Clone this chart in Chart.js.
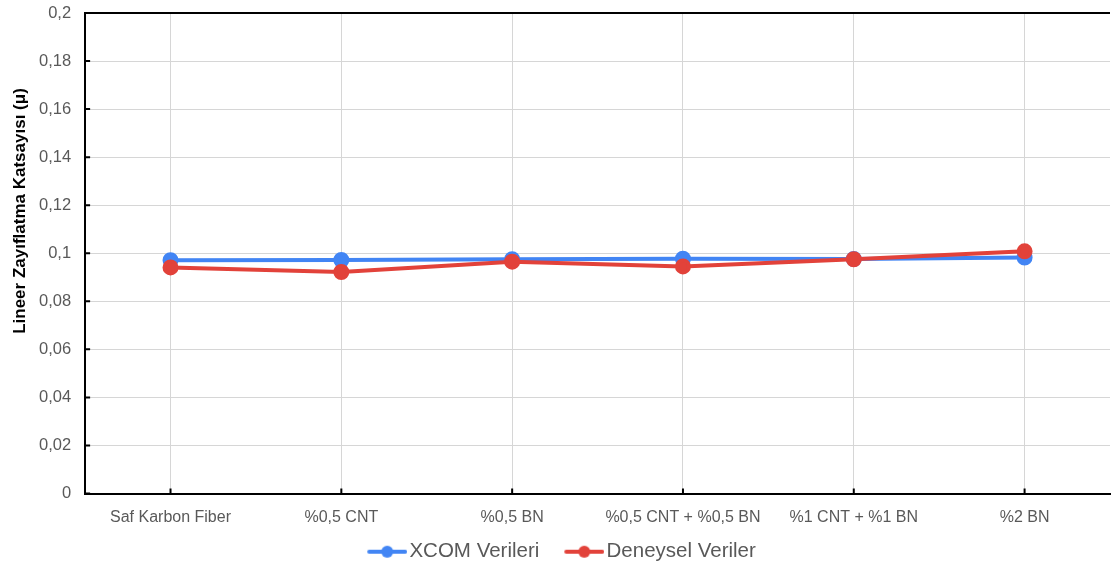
<!DOCTYPE html>
<html>
<head>
<meta charset="utf-8">
<script src="https://cdn.jsdelivr.net/npm/chart.js@4.4.1/dist/chart.umd.min.js"></script>
<style>
  html, body { margin: 0; padding: 0; background: #fff; overflow: hidden; }
  #wrap { width: 1111px; height: 567px; position: relative; }
</style>
</head>
<body>
<div id="wrap"><canvas id="myChart"></canvas></div>
<script>
const categories = ['Saf Karbon Fiber', '%0,5 CNT', '%0,5 BN', '%0,5 CNT + %0,5 BN', '%1 CNT + %1 BN', '%2 BN'];
const xcom = [0.0971, 0.0972, 0.0975, 0.0977, 0.0976, 0.0982];
const deneysel = [0.0941, 0.0922, 0.0965, 0.0945, 0.0975, 0.1008];
const yTicks = [0, 0.02, 0.04, 0.06, 0.08, 0.1, 0.12, 0.14, 0.16, 0.18, 0.2];
const yTitle = 'Lineer Zayıflatma Katsayısı (μ)';

const BLUE = '#4285f4';
const RED = '#e2423a';
const FONT = 'Liberation Sans, Arial, sans-serif';

// legend marker: short line with a dot, blank strip on the left for spacing
function lineMarker(color) {
  const c = document.createElement('canvas');
  c.width = 62; c.height = 14;
  const g = c.getContext('2d');
  g.strokeStyle = color; g.lineWidth = 4; g.lineCap = 'round';
  g.beginPath(); g.moveTo(24, 7); g.lineTo(60, 7); g.stroke();
  g.fillStyle = color;
  g.beginPath(); g.arc(42, 7, 6, 0, Math.PI * 2); g.fill();
  return c;
}

function comma(v) {
  return String(parseFloat(v.toFixed(2))).replace('.', ',');
}

const data = {
  labels: categories,
  datasets: [{
    label: 'XCOM Verileri',
    data: xcom,
    borderColor: BLUE,
    backgroundColor: BLUE,
    borderWidth: 4,
    pointRadius: 6,
    pointHoverRadius: 6,
    order: 2,
    marker: lineMarker(BLUE)
  },
  {
    label: 'Deneysel Veriler',
    data: deneysel,
    borderColor: RED,
    backgroundColor: RED,
    borderWidth: 4,
    pointRadius: 6,
    pointHoverRadius: 6,
    order: 1,
    marker: lineMarker(RED)
  }]
};

const config = {
  type: 'line',
  data: data,
  options: {
    responsive: true,
    maintainAspectRatio: false,
    animation: false,
    layout: { autoPadding: false, padding: { left: 25, right: 1, top: 13, bottom: -5 } },
    scales: {
      x: {
        offset: true,
        grid: { offset: false, color: '#d6d6d6', lineWidth: 1, drawTicks: false },
        border: { color: '#000', width: 2 },
        ticks: { color: '#595959', font: { family: FONT, size: 16 }, padding: 14, maxRotation: 0, autoSkip: false },
        afterFit: function(s) { s.paddingLeft = 0; s.paddingRight = 0; s.height = 37; }
      },
      y: {
        min: 0,
        max: 0.2,
        afterBuildTicks: function(scale) { scale.ticks = yTicks.map(v => ({ value: v })); },
        grid: { color: '#d6d6d6', lineWidth: 1, drawTicks: false },
        border: { color: '#000', width: 2 },
        ticks: {
          color: '#595959',
          font: { family: FONT, size: 16.5 },
          padding: 14,
          callback: function(v) { return comma(v); }
        },
        afterFit: function(s) { s.paddingTop = 0; s.paddingBottom = 0; }
      }
    },
    plugins: {
      tooltip: { enabled: false },
      legend: {
        position: 'bottom',
        labels: {
          usePointStyle: true,
          pointStyleWidth: 46,
          padding: 11,
          color: '#595959',
          font: { family: FONT, size: 20.5 },
          generateLabels: function(chart) {
            return chart.data.datasets.map((ds, i) => ({
              text: ds.label,
              pointStyle: ds.marker,
              fillStyle: ds.borderColor,
              strokeStyle: ds.borderColor,
              fontColor: '#595959',
              lineWidth: 0,
              hidden: false,
              datasetIndex: i
            }));
          }
        }
      }
    }
  },
  plugins: [{
    // nudge the legend row left a little
    id: 'legendShift',
    afterLayout(chart) {
      if (chart.legend) {
        chart.legend.left -= 13;
        chart.legend.right -= 13;
      }
    }
  },
  {
    // top frame line, short inner tick marks and the rotated y axis title
    id: 'frameAndTitle',
    afterDraw(chart) {
      const a = chart.chartArea, ctx = chart.ctx;
      const xs = chart.scales.x, ys = chart.scales.y;
      ctx.save();
      ctx.strokeStyle = '#000';
      ctx.lineWidth = 2;
      ctx.beginPath();
      ctx.moveTo(a.left, a.top);
      ctx.lineTo(a.right, a.top);
      yTicks.forEach(v => {
        const y = ys.getPixelForValue(v);
        ctx.moveTo(a.left, y);
        ctx.lineTo(a.left + 5, y);
      });
      categories.forEach((c, i) => {
        const x = xs.getPixelForTick(i);
        ctx.moveTo(x, a.bottom);
        ctx.lineTo(x, a.bottom - 5);
      });
      ctx.stroke();
      ctx.translate(20, 211);
      ctx.rotate(-Math.PI / 2);
      ctx.fillStyle = '#000';
      ctx.font = 'bold 17px ' + FONT;
      ctx.textAlign = 'center';
      ctx.textBaseline = 'middle';
      ctx.fillText(yTitle, 0, 0);
      ctx.restore();
    }
  }]
};

const myChart = new Chart(document.getElementById('myChart'), config);
</script>
</body>
</html>
